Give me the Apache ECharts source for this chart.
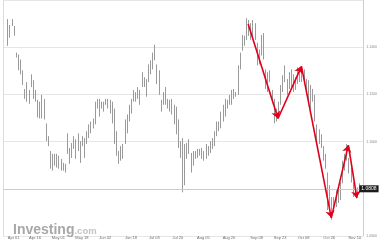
<!DOCTYPE html>
<html><head><meta charset="utf-8">
<script src="https://cdn.jsdelivr.net/npm/echarts@6/dist/echarts.min.js"></script>
<style>html,body{margin:0;padding:0;background:#fff}#c{width:380px;height:240px}</style>
</head><body><div id="c"></div>
<script>
// Bar highs and lows
const highs = [1.1519,1.1494,1.1519,1.1490,1.1377,1.1369,1.1348,1.1302,1.1223,1.1252,
1.1219,1.1285,1.1260,1.1219,1.1177,1.1169,1.1198,1.1181,1.1077,1.1023,
1.0960,1.0948,1.0948,1.0948,1.0940,1.0927,1.0910,1.0906,1.1035,1.0973,
1.0994,1.1023,1.1010,1.1035,1.1002,1.1023,1.1015,1.1044,1.1073,1.1085,
1.1098,1.1169,1.1181,1.1181,1.1169,1.1169,1.1181,1.1181,1.1177,1.1169,
1.1140,1.1044,1.0960,1.0981,1.0990,1.1094,1.1115,1.1156,1.1181,1.1219,
1.1210,1.1231,1.1219,1.1294,1.1273,1.1265,1.1327,1.1344,1.1377,1.1410,
1.1327,1.1302,1.1177,1.1210,1.1231,1.1181,1.1177,1.1181,1.1156,1.1148,
1.1094,1.1002,1.1015,1.0990,1.0994,1.1010,1.0952,1.0960,1.0960,1.0969,
1.0969,1.0973,1.0960,1.0990,1.0981,1.1002,1.1015,1.1044,1.1085,1.1085,
1.1127,1.1156,1.1181,1.1177,1.1198,1.1219,1.1223,1.1210,1.1323,1.1377,
1.1452,1.1448,1.1523,1.1515,1.1502,1.1515,1.1502,1.1419,1.1390,1.1452,
1.1460,1.1306,1.1294,1.1302,1.1219,1.1181,1.1140,1.1169,1.1240,1.1281,
1.1323,1.1265,1.1294,1.1306,1.1285,1.1273,1.1315,1.1315,1.1306,1.1306,
1.1265,1.1260,1.1240,1.1223,1.1198,1.1073,1.1052,1.1031,1.0981,1.0948,
1.0869,1.0815,1.0765,1.0765,1.0794,1.0815,1.0827,1.0919,1.0948,1.0990,
1.0931,1.0890,1.0827,1.0794,1.0806,1.0823];
const lows = [1.1406,1.1440,1.1490,1.1448,1.1356,1.1302,1.1285,1.1240,1.1181,1.1169,
1.1160,1.1231,1.1181,1.1169,1.1102,1.1098,1.1098,1.1094,1.1002,1.0981,
1.0885,1.0877,1.0898,1.0890,1.0885,1.0877,1.0877,1.0869,1.0948,1.0906,
1.0931,1.0969,1.0927,1.0960,1.0910,1.0981,1.0931,1.0990,1.1015,1.1035,
1.1056,1.1073,1.1140,1.1106,1.1140,1.1127,1.1156,1.1140,1.1119,1.1077,
1.0990,1.0940,1.0906,1.0919,1.0927,1.0990,1.1035,1.1085,1.1119,1.1169,
1.1169,1.1181,1.1156,1.1231,1.1231,1.1190,1.1252,1.1285,1.1306,1.1344,
1.1244,1.1198,1.1127,1.1156,1.1156,1.1140,1.1127,1.1115,1.1073,1.1031,
1.0973,1.0931,1.0785,1.0815,1.0927,1.0948,1.0869,1.0898,1.0927,1.0931,
1.0940,1.0927,1.0919,1.0927,1.0940,1.0952,1.0969,1.0981,1.1023,1.1044,
1.1056,1.1085,1.1106,1.1140,1.1156,1.1156,1.1181,1.1190,1.1198,1.1306,
1.1385,1.1406,1.1431,1.1448,1.1431,1.1448,1.1431,1.1323,1.1327,1.1365,
1.1348,1.1223,1.1210,1.1252,1.1169,1.1077,1.1085,1.1106,1.1156,1.1210,
1.1252,1.1198,1.1223,1.1231,1.1210,1.1219,1.1244,1.1252,1.1252,1.1244,
1.1198,1.1169,1.1140,1.1169,1.1085,1.1002,1.0990,1.0973,1.0919,1.0885,
1.0710,1.0710,1.0669,1.0710,1.0723,1.0740,1.0752,1.0823,1.0877,1.0919,
1.0865,1.0827,1.0765,1.0765,1.0773,1.0781];
const lastPrice = 1.0808;
const leadSlots = 2;      // empty slots before first bar
const trailSlots = 2;     // empty slots after last bar
const dateLabels = ['Apr 01','Apr 16','May 01','May 18','Jun 02','Jun 18','Jul 03','Jul 20',
  'Aug 05','Aug 20','Sep 08','Sep 23','Oct 08','Oct 26','Nov 10'];
const dateLabelSlots = [5,15,26,37,48,60,71,82,94,106,119,130,141,153,165];
const yMin = 1.06, yMax = 1.16, yStep = 0.02;
// Red zig-zag annotation (bar index, price)
const zigzagBars = [113,127,138,152,160,164];
const zigzagPrices = [1.1498,1.1098,1.1319,1.0677,1.0985,1.0760];

const nSlots = leadSlots + highs.length + trailSlots;
const categories = Array.from({length: nSlots}, (_, i) => 's' + i);
const barData = highs.map((h, i) => [i + leadSlots, h, lows[i]]);
const segs = [];
for (let k = 0; k < zigzagBars.length - 1; k++) {
  segs.push([{coord: [zigzagBars[k] + leadSlots, zigzagPrices[k]]},
             {coord: [zigzagBars[k + 1] + leadSlots, zigzagPrices[k + 1]]}]);
}

const chart = echarts.init(document.getElementById('c'), null, {renderer: 'canvas'});
chart.setOption({
  animation: false,
  backgroundColor: '#ffffff',
  title: {
    text: '{a|Investing}{b|.com}',
    left: 8, top: 218,
    textStyle: {
      rich: {
        a: {fontFamily: 'Liberation Sans', fontWeight: 'bold', fontSize: 14, color: '#a8a8a8'},
        b: {fontFamily: 'Liberation Sans', fontSize: 9.5, color: '#c4c4c4', padding: [2, 0, 0, 0]}
      }
    }
  },
  grid: {left: 3, right: 16, top: -3.5, bottom: 3.5},
  xAxis: {
    type: 'category', data: categories, boundaryGap: false,
    axisLine: {show: false}, axisTick: {show: false}, splitLine: {show: false},
    axisLabel: {
      fontSize: 4, color: '#6e6e6e', margin: 0, fontFamily: 'Liberation Sans',
      interval: (idx) => dateLabelSlots.indexOf(idx) >= 0,
      formatter: (v, idx) => { const p = dateLabelSlots.indexOf(idx); return p >= 0 ? dateLabels[p] : ''; }
    }
  },
  yAxis: [{
    type: 'value', position: 'right', min: yMin, max: yMax, interval: yStep,
    axisLine: {show: true, lineStyle: {color: '#cfcfcf'}}, axisTick: {show: false},
    splitLine: {show: true, lineStyle: {color: '#e6e6e6', width: 1}},
    axisLabel: {fontSize: 3.5, color: '#8a8a8a', margin: 3, showMaxLabel: false,
      fontFamily: 'Liberation Sans', formatter: (v) => v.toFixed(4)}
  }, {
    type: 'value', position: 'left', min: yMin, max: yMax, interval: yStep,
    axisLine: {show: true, lineStyle: {color: '#dcdcdc'}}, axisTick: {show: false},
    splitLine: {show: false}, axisLabel: {show: false}
  }],
  series: [{
    type: 'custom', name: 'bars',
    data: barData,
    encode: {x: 0, y: [1, 2]},
    renderItem: (params, api) => {
      const x = api.value(0);
      const hi = api.coord([x, api.value(1)]);
      const lo = api.coord([x, api.value(2)]);
      const px = Math.round(hi[0]) + 0.5;
      return {type: 'line', shape: {x1: px, y1: hi[1], x2: px, y2: lo[1]},
        style: {stroke: '#9a9a9a', lineWidth: 1}};
    }
  }, {
    type: 'line', name: 'price', data: [],
    markLine: {
      silent: true, symbol: ['none', 'none'], animation: false,
      lineStyle: {color: '#cccccc', width: 1, type: 'solid'},
      label: {show: true, position: 'end', formatter: () => lastPrice.toFixed(4),
        backgroundColor: '#1c1c1c', color: '#ffffff', fontSize: 5, padding: [1, 2],
        distance: -4, fontFamily: 'Liberation Sans'},
      data: [{yAxis: lastPrice}]
    }
  }, {
    type: 'line', name: 'zigzag', data: [],
    markLine: {
      silent: true, symbol: ['none', 'arrow'], symbolSize: 7, animation: false,
      lineStyle: {color: '#e0001b', width: 1.6, type: 'solid'},
      label: {show: false},
      data: segs
    }
  }]
});
</script>
</body></html>
